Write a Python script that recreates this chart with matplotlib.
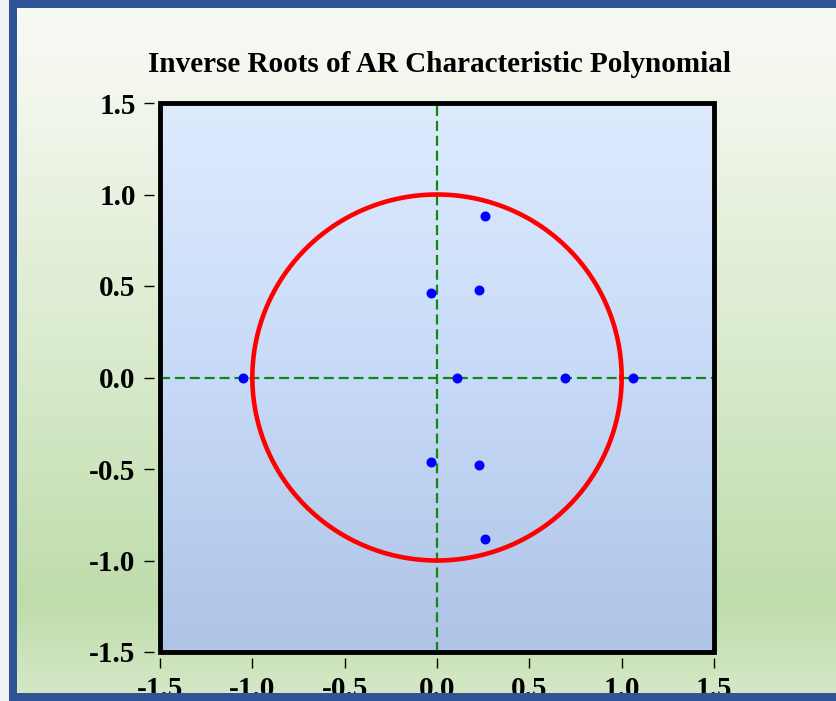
import numpy as np
import matplotlib
matplotlib.use("Agg")
import matplotlib.pyplot as plt
from matplotlib.colors import LinearSegmentedColormap
from matplotlib.patches import Rectangle

# Data: inverse roots (real, imaginary)
root_re = [-1.05, 0.108, 0.693, 1.061, -0.032, -0.032, 0.227, 0.227, 0.262, 0.262]
root_im = [0.0, 0.0, 0.0, 0.0, 0.46, -0.46, 0.476, -0.476, 0.881, -0.881]
tick_vals = [-1.5, -1.0, -0.5, 0.0, 0.5, 1.0, 1.5]
tick_labels = ["-1.5", "-1.0", "-0.5", "0.0", "0.5", "1.0", "1.5"]
title = "Inverse Roots of AR Characteristic Polynomial"

W, H = 837, 701
fig = plt.figure(figsize=(W / 100, H / 100), dpi=100)
FONT = "Liberation Serif"

# Figure background gradient
bg = fig.add_axes([0, 0, 1, 1], zorder=-10)
bg_cmap = LinearSegmentedColormap.from_list(
    "bg", [(0.0, "#F8FAF4"), (0.12, "#F3F7EE"), (0.55, "#D6E9C9"),
           (0.86, "#BFDCAB"), (1.0, "#D6E9C8")])
grad = np.linspace(0, 1, 256).reshape(-1, 1)
bg.imshow(grad, aspect="auto", cmap=bg_cmap, extent=[0, 1, 0, 1], origin="upper")
bg.set_xlim(0, 1)
bg.set_ylim(0, 1)
bg.axis("off")

# Blue frame
fc = "#2F5597"
fig.patches.append(Rectangle((0, 0), 9 / W, 1, transform=fig.transFigure,
                             facecolor="#F2F2F2", edgecolor="none", zorder=20))
fig.patches.append(Rectangle((9 / W, 0), 8 / W, 1, transform=fig.transFigure,
                             facecolor=fc, edgecolor="none", zorder=21))
fig.patches.append(Rectangle((9 / W, 1 - 8 / H), 1, 8 / H, transform=fig.transFigure,
                             facecolor=fc, edgecolor="none", zorder=21))
fig.patches.append(Rectangle((9 / W, 0), 1, 8 / H, transform=fig.transFigure,
                             facecolor=fc, edgecolor="none", zorder=21))

# Main axes
left, right, top, bottom = 160 / W, 714 / W, 1 - 103 / H, 1 - 652 / H
ax = fig.add_axes([left, bottom, right - left, top - bottom])
ax_cmap = LinearSegmentedColormap.from_list("ax", ["#DEEBFE", "#C7DAF7", "#AEC3E6"])
ax.imshow(grad, aspect="auto", cmap=ax_cmap, extent=[-1.5, 1.5, -1.5, 1.5],
          origin="upper", zorder=0)
ax.set_xlim(-1.5, 1.5)
ax.set_ylim(-1.5, 1.5)

# Axis lines through origin
ax.axhline(0, color="#118811", lw=1.6, ls=(0, (4.5, 2.2)), zorder=1)
ax.axvline(0, color="#118811", lw=1.6, ls=(0, (4.5, 2.2)), zorder=1)

# Unit circle
t = np.linspace(0, 2 * np.pi, 400)
ax.plot(np.cos(t), np.sin(t), color="#FF0000", lw=3.3, zorder=2)

# Roots
ax.plot(root_re, root_im, "o", color="#0000FF", ms=7.2, mec="none", zorder=3)

# Frame
for s in ax.spines.values():
    s.set_visible(False)
ax.add_patch(Rectangle((0, 0), 1, 1, transform=ax.transAxes, fill=False,
                       edgecolor="black", lw=3.5, clip_on=False, zorder=5))
ax.spines["left"].set_position(("outward", 4))
ax.spines["bottom"].set_position(("outward", 4))

ax.set_xticks(tick_vals)
ax.set_xticklabels(tick_labels)
ax.set_yticks(tick_vals)
ax.set_yticklabels(tick_labels)
ax.tick_params(direction="out", length=7.5, width=1.0, color="black", pad=6,
               labelsize=21)
for lab in ax.get_xticklabels() + ax.get_yticklabels():
    lab.set_fontfamily(FONT)
    lab.set_fontweight("bold")

fig.text(0.5245, 1 - 64 / H, title, ha="center", va="center",
         fontsize=21, fontweight="bold", family=FONT)

fig.savefig("out.png", dpi=100)
